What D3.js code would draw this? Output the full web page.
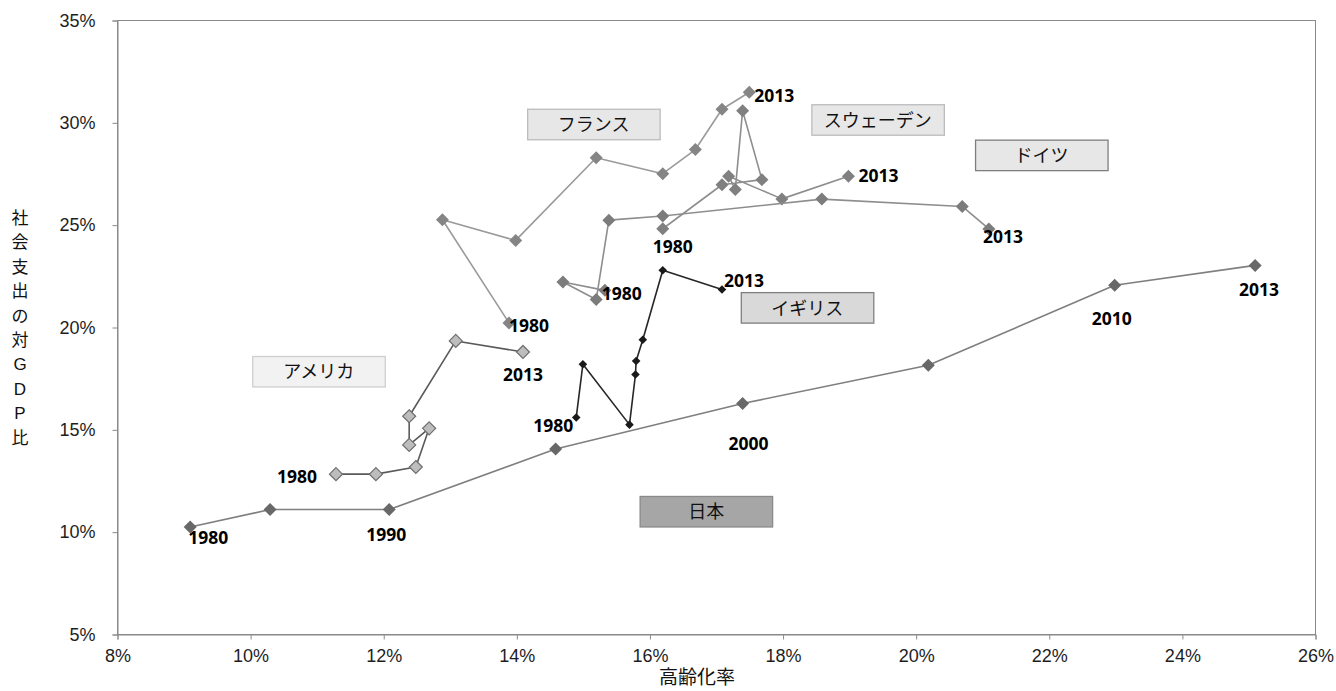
<!DOCTYPE html>
<html lang="ja">
    <head>
        <meta charset="utf-8">
        <title>高齢化率と社会支出</title>
        <script type="text/javascript" src="https://d3js.org/d3.v7.min.js"></script>
        <style type="text/css">
          body { margin: 0; background: #fff; }
          .tick text { font-family: "Liberation Sans", Arial, sans-serif; font-size: 18px; fill: #1e1e1e; }
          .yr { font-family: "Open Sans", "Liberation Sans", sans-serif; font-weight: 700; font-size: 17.5px; fill: #000; }
          .note { font-family: "Noto Sans CJK JP", sans-serif; font-size: 18px; fill: #111; }
        </style>
    </head>
    <body>
        <script type="text/javascript">
        var w = 1336;
        var h = 691;

        // data: 高齢化率 (%) and 社会支出の対GDP比 (%)
        var years = [1980, 1985, 1990, 1995, 2000, 2005, 2010, 2013];
        var japanAged  = [9.10, 10.30, 12.09, 14.59, 17.40, 20.19, 22.99, 25.10];
        var japanSoc   = [10.23, 11.08, 11.08, 14.04, 16.26, 18.13, 22.04, 23.01];
        var usaAged    = [11.29, 11.89, 12.49, 12.69, 12.39, 12.39, 13.09, 14.10];
        var usaSoc     = [12.81, 12.81, 13.16, 15.05, 14.24, 15.64, 19.32, 18.78];
        var ukAged     = [14.90, 15.00, 15.70, 15.79, 15.80, 15.90, 16.20, 17.09];
        var ukSoc      = [15.58, 18.18, 15.23, 17.68, 18.34, 19.38, 22.77, 21.83];
        var franceAged = [13.89, 12.89, 13.99, 15.20, 16.20, 16.69, 17.09, 17.50];
        var franceSoc  = [20.20, 25.24, 24.23, 28.27, 27.49, 28.67, 30.64, 31.47];
        var swedenAged = [16.20, 17.09, 17.69, 17.40, 17.29, 17.19, 17.99, 18.99];
        var swedenSoc  = [24.80, 26.95, 27.20, 30.57, 26.72, 27.37, 26.26, 27.37];
        var germanyAged = [15.33, 14.70, 15.20, 15.39, 16.20, 18.59, 20.70, 21.10];
        var germanySoc  = [21.79, 22.20, 21.34, 25.22, 25.42, 26.25, 25.89, 24.79];

        var xTicks = [8, 10, 12, 14, 16, 18, 20, 22, 24, 26];
        var yTicks = [5, 10, 15, 20, 25, 30, 35];
        var countries = ['日本', 'アメリカ', 'イギリス', 'フランス', 'スウェーデン', 'ドイツ'];
        // where each name box sits (data units: left, top)
        var noteX = [15.86, 10.04, 17.38, 14.17, 18.44, 20.90];
        var noteY = [11.72, 18.56, 21.68, 30.64, 30.86, 29.13];
        var labelYears = [[1980, 1990, 2000, 2010, 2013], [1980, 2013], [1980, 2013], [1980, 2013], [1980, 2013], [1980, 2013]];

        var series = [
          {aged: japanAged, soc: japanSoc, line: "#7f7f7f", lw: 1.6, fill: "#686868", stroke: "none", r: 6.5},
          {aged: usaAged, soc: usaSoc, line: "#5a5a5a", lw: 1.6, fill: "#bdbdbd", stroke: "#6e6e6e", r: 6.5},
          {aged: ukAged, soc: ukSoc, line: "#262626", lw: 1.6, fill: "#1a1a1a", stroke: "none", r: 4.3},
          {aged: franceAged, soc: franceSoc, line: "#9a9a9a", lw: 1.6, fill: "#858585", stroke: "none", r: 6.5},
          {aged: swedenAged, soc: swedenSoc, line: "#8e8e8e", lw: 1.6, fill: "#808080", stroke: "none", r: 6.5},
          {aged: germanyAged, soc: germanySoc, line: "#8e8e8e", lw: 1.6, fill: "#7c7c7c", stroke: "none", r: 6.5}
        ];
        // label offsets from the point, px: [dx, dy, anchor]
        var labelPos = [
          [[18, 11, "middle"], [-3, 25, "middle"], [6, 40, "middle"], [-3, 33, "middle"], [4, 24, "middle"]],
          [[-19, 3, "end"], [0, 23, "middle"]],
          [[-3, 8, "end"], [2, -9, "start"]],
          [[0, 3, "start"], [5, 3, "start"]],
          [[10, 18, "middle"], [10, 0, "start"]],
          [[-3, 3, "start"], [-6, 8, "start"]]
        ];
        var noteFill = ["#a6a6a6", "#f2f2f2", "#d9d9d9", "#e7e7e7", "#e7e7e7", "#e7e7e7"];
        var noteLine = ["#8a8a8a", "#cfcfcf", "#7f7f7f", "#bcbcbc", "#bcbcbc", "#7f7f7f"];

        var svg = d3.select("body").append("svg")
                    .attr("width", w)
                    .attr("height", h);

        var x = d3.scaleLinear().domain([8, 26]).range([117, 1315]);
        var y = d3.scaleLinear().domain([5, 35]).range([634, 20]);

        var diamond = function(r){
          return "M0," + (-r) + "L" + r + ",0L0," + r + "L" + (-r) + ",0Z";
        };

        // frame
        svg.append("rect")
            .attr("x", x(8) + 0.5)
            .attr("y", y(35) + 0.5)
            .attr("width", x(26) - x(8))
            .attr("height", y(5) - y(35))
            .attr("fill", "none")
            .attr("stroke", "#8a8a8a")
            .attr("stroke-width", 1);

        var gx = svg.append("g")
            .attr("transform", "translate(0.5," + (y(5) + 0.5) + ")")
            .call(d3.axisBottom(x).tickValues(xTicks).tickFormat(function(d){ return d + "%"; })
                  .tickSize(5).tickPadding(10));
        gx.select(".domain").attr("stroke", "#8a8a8a");
        gx.selectAll(".tick line").attr("stroke", "#8a8a8a");

        var gy = svg.append("g")
            .attr("transform", "translate(" + (x(8) + 0.5) + ",0.5)")
            .call(d3.axisLeft(y).tickValues(yTicks).tickFormat(function(d){ return d + "%"; })
                  .tickSize(5).tickPadding(17));
        gy.select(".domain").attr("stroke", "#8a8a8a");
        gy.selectAll(".tick line").attr("stroke", "#8a8a8a");

        // axis titles
        svg.append("text")
            .attr("x", 697)
            .attr("y", 684)
            .attr("text-anchor", "middle")
            .style("font-family", "Noto Sans CJK JP, sans-serif")
            .style("font-size", "19px")
            .style("fill", "#111")
            .text("高齢化率");

        var yTitle = svg.append("text")
            .attr("x", 20)
            .attr("y", 224)
            .attr("text-anchor", "middle")
            .style("font-family", "Noto Sans CJK JP, sans-serif")
            .style("font-size", "17px")
            .style("fill", "#111");
        "社会支出の対GDP比".split("").forEach(function(c, i){
          yTitle.append("tspan")
              .attr("x", 20)
              .attr("dy", i === 0 ? 0 : 24.4)
              .style("font-family", /[A-Z]/.test(c) ? "Liberation Sans, Arial, sans-serif" : null)
              .text(c);
        });

        // name boxes
        var notes = svg.selectAll("g.note")
          .data(countries)
          .enter()
          .append("g")
            .attr("class", "note")
            .attr("transform", function(d, i){
              return "translate(" + x(noteX[i]) + "," + y(noteY[i]) + ")";
            });
        notes.append("rect")
            .attr("width", 132.5)
            .attr("height", 30.5)
            .attr("fill", function(d, i){ return noteFill[i]; })
            .attr("stroke", function(d, i){ return noteLine[i]; })
            .attr("stroke-width", 1.3);
        notes.append("text")
            .attr("class", "note")
            .attr("x", 66)
            .attr("y", 15.5)
            .attr("dy", "0.36em")
            .attr("text-anchor", "middle")
            .text(function(d){ return d; });

        var line = d3.line()
            .x(function(d){ return x(d[0]); })
            .y(function(d){ return y(d[1]); });

        series.forEach(function(s){
          var pts = s.aged.map(function(a, i){ return [a, s.soc[i]]; });
          svg.append("path")
              .datum(pts)
              .attr("fill", "none")
              .attr("stroke", s.line)
              .attr("stroke-width", s.lw)
              .attr("stroke-linejoin", "round")
              .attr("d", line);
          svg.selectAll(null)
              .data(pts)
              .enter()
              .append("path")
              .attr("transform", function(d){ return "translate(" + x(d[0]) + "," + y(d[1]) + ")"; })
              .attr("d", diamond(s.r))
              .attr("fill", s.fill)
              .attr("stroke", s.stroke)
              .attr("stroke-width", 1.2);
        });

        // year labels
        series.forEach(function(s, k){
          labelYears[k].forEach(function(yr, j){
            var i = years.indexOf(yr);
            var p = labelPos[k][j];
            svg.append("text")
                .attr("class", "yr")
                .attr("x", x(s.aged[i]) + p[0])
                .attr("y", y(s.soc[i]) + p[1])
                .attr("dy", "0.36em")
                .attr("text-anchor", p[2])
                .text(yr);
          });
        });
        </script>
    </body>
</html>
